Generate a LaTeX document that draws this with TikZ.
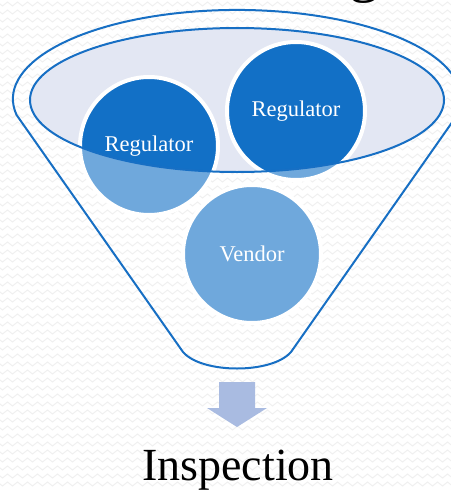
\documentclass[tikz,border=0pt]{standalone}
\usepackage{fontspec}
\setmainfont{Liberation Serif}
\usetikzlibrary{decorations.pathmorphing}
\definecolor{funnelblue}{RGB}{23,111,196}
\definecolor{darkball}{RGB}{18,112,198}
\definecolor{lightball}{RGB}{111,168,220}
\definecolor{rimfill}{RGB}{227,231,243}
\definecolor{arrowfill}{RGB}{169,187,225}
\definecolor{patgray}{RGB}{240,240,240}
\tikzset{
  pat/.style={draw=patgray, line width=1pt, decorate,
    decoration={zigzag, segment length=10pt, amplitude=2pt}},
  outline/.style={draw=funnelblue, line width=2pt},
  ball/.style={circle, draw=white, line width=4pt, minimum size=138pt,
    inner sep=0pt, text=white, font=\fontsize{22.5}{26}\selectfont},
}
\begin{document}
\begin{tikzpicture}[x=1pt, y=-1pt]
\useasboundingbox (0,0) rectangle (450,490);
\fill[white] (0,0) rectangle (450,490);
% background texture
\foreach \yy in {4,12,...,490} \draw[pat] (-5,\yy) -- (455,\yy);
% title fragment
\node[anchor=base, inner sep=0pt, font=\fontsize{60}{60}\selectfont] (title) at (364,-10) {g};
% inner rim of the funnel
\fill[rimfill] (237,100) ellipse[x radius=207, y radius=72];
% balls, light parts
\fill[lightball] (149,146) circle[radius=69];
\fill[lightball] (296,111) circle[radius=69];
\fill[lightball] (252,254) circle[radius=69];
% parts inside the rim are darker
\begin{scope}
  \clip (237,100) ellipse[x radius=207, y radius=72];
  \fill[darkball] (149,146) circle[radius=69];
  \fill[darkball] (296,111) circle[radius=69];
\end{scope}
\node[ball] (reg1) at (149,146) {Regulator};
\node[ball] (reg2) at (296,111) {Regulator};
\node[ball] (vendor) at (252,254) {Vendor};
% funnel outline
\draw[outline] (16.6,115) arc[start angle=169.6, end angle=370.4, x radius=224, y radius=89]
  -- (291,352) .. controls (272,374) and (202,374) .. (183,352) -- cycle;
\draw[outline] (237,100) ellipse[x radius=207, y radius=72];
% arrow
\fill[arrowfill] (219,382) -- (255,382) -- (255,408) -- (267,408) -- (237,427)
  -- (207,408) -- (219,408) -- cycle;
\node[anchor=base, inner sep=0pt, font=\fontsize{46}{50}\selectfont] (insp) at (238,480) {Inspection};
\end{tikzpicture}
\end{document}
